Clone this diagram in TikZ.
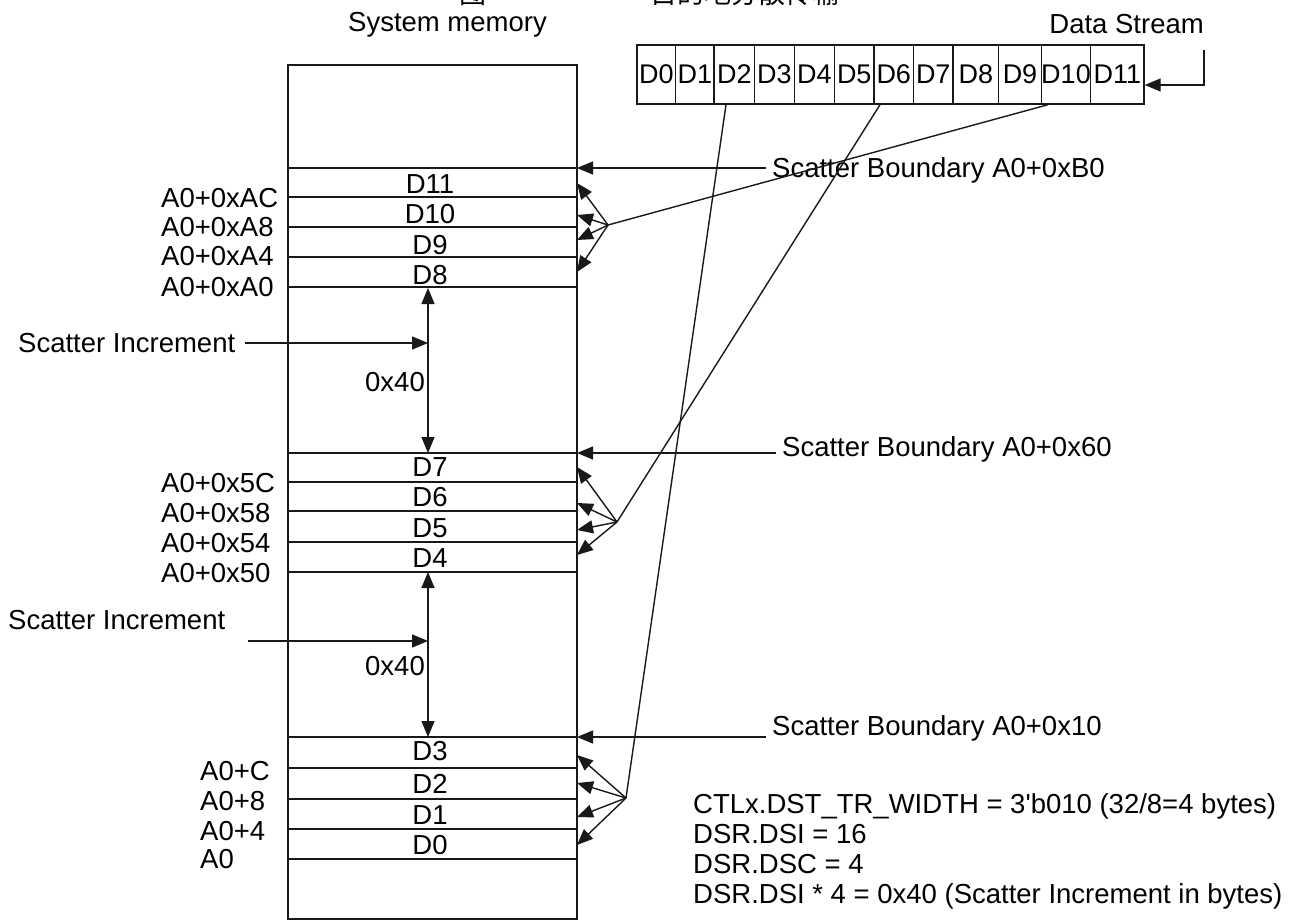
\documentclass[tikz,border=0pt]{standalone}
\usepackage{fontspec}
\setmainfont{Liberation Sans}
\newfontfamily\cjk{Noto Sans CJK SC}
\usetikzlibrary{arrows.meta}
\begin{document}
\begin{tikzpicture}[x=1pt,y=-1pt,
  ln/.style={line width=1.4pt, draw=black!90},
  tipa/.tip={Triangle[length=16pt,width=13pt]},
  arr/.style={ln, -tipa},
  darr/.style={ln, tipa-tipa},
  txt/.style={font=\fontsize{27.5}{30}\selectfont, inner sep=0pt},
  cell/.style={ln, draw, minimum height=59pt, inner sep=0pt, font=\fontsize{27}{30}\selectfont}]
\useasboundingbox (0,0) rectangle (1294,921);

% clipped caption at the very top
\node[font=\cjk\fontsize{27}{30}\selectfont, inner sep=0pt, anchor=base] (cap1) at (473,3) {图};
\node[font=\cjk\fontsize{27}{30}\selectfont, inner sep=0pt, anchor=base west] (cap2) at (650,3) {目的地分散传输};

% memory block
\node[txt, anchor=base east] (memlbl) at (547,31) {System memory};
\node[ln, draw, minimum width=289pt, minimum height=854pt, inner sep=0pt] (mem) at (432.5,492) {};
\foreach \y in {168,197,227,257,287,453,482,511,542,572,737,768,799,829,859}
  \draw[ln] (mem.west |- 0,\y) -- (mem.east |- 0,\y);

% row contents
\foreach \t/\y in {D11/184,D10/214,D9/245,D8/275,D7/467,D6/497,D5/528,D4/558,D3/751,D2/784,D1/815,D0/845}
  \node[txt] (r\t) at (430,\y) {\t};

% address labels
\foreach \t/\y/\n in {A0+0xAC/198/a1,A0+0xA8/227/a2,A0+0xA4/256/a3,A0+0xA0/287/a4,
                      A0+0x5C/483/a5,A0+0x58/513/a6,A0+0x54/543/a7,A0+0x50/573/a8}
  \node[txt, anchor=west] (\n) at (161,\y) {\t};
\foreach \t/\y/\n in {A0+C/771/a9,A0+8/801/a10,A0+4/831/a11,A0/859/a12}
  \node[txt, anchor=west] (\n) at (200,\y) {\t};

% scatter increments
\node[txt, inner xsep=10pt, anchor=west] (si1) at (8,343) {Scatter Increment};
\coordinate (v1a) at (428,288);
\coordinate (v1b) at (428,453);
\coordinate (v1m) at (428,343);
\draw[darr] (v1a) -- (v1b);
\draw[arr] (si1.east) -- (v1m);
\node[txt, anchor=east] (x1) at (425,382) {0x40};

\node[txt, anchor=west] (si2) at (8,620) {Scatter Increment};
\coordinate (s2s) at (248,641);
\coordinate (v2a) at (428,572);
\coordinate (v2b) at (428,737);
\coordinate (v2m) at (428,641);
\draw[darr] (v2a) -- (v2b);
\draw[arr] (s2s) -- (v2m);
\node[txt, anchor=east] (x2) at (425,666) {0x40};

% scatter boundaries
\node[txt, inner xsep=6pt, anchor=west] (b1) at (766,170) {Scatter Boundary A0+0xB0};
\node[txt, inner xsep=6pt, anchor=west] (b2) at (776,449) {Scatter Boundary A0+0x60};
\node[txt, inner xsep=6pt, anchor=west] (b3) at (766,728) {Scatter Boundary A0+0x10};
\coordinate (bt1) at (577,168);
\coordinate (bt2) at (577,453);
\coordinate (bt3) at (577,737);
\draw[arr] (b1.west |- bt1) -- (bt1);
\draw[arr] (b2.west |- bt2) -- (bt2);
\draw[arr] (b3.west |- bt3) -- (bt3);

% data stream
\node[txt, anchor=east] (dsl) at (1204,24) {Data Stream};
\foreach \i/\a/\b in {0/637/675.7,1/675.7/714,2/714/754.7,3/754.7/794.2,4/794.2/834.5,5/834.5/874,
                      6/874/913.5,7/913.5/953,8/953/998.7,9/998.7/1041.3,10/1041.3/1090.7,11/1090.7/1144}
  \node[cell, minimum width={(\b-\a)*1pt}] (c\i) at ({(\a+\b)/2},74.5) {D\i};
\coordinate (ds0) at (1204,50);
\draw[arr] (ds0) |- ([yshift=-10.5pt]c11.east);

% fan-out points
\coordinate (T) at (608,225);
\coordinate (M) at (617,522);
\coordinate (B) at (626,798);
\draw[ln] ([xshift=-18pt]c10.south) -- (T);
\draw[ln] ([xshift=-13.75pt]c6.south) -- (M);
\draw[ln] ([xshift=-8.35pt]c2.south) -- (B);
\foreach \y in {183,215,240,272} \draw[arr] (T) -- (577,\y);
\foreach \y in {467,503,530,555} \draw[arr] (M) -- (577,\y);
\foreach \y in {755,783,817,845} \draw[arr] (B) -- (577,\y);

% notes
\node[txt, align=left, anchor=west] (notes) at (693,851)
  {CTLx.DST\_TR\_WIDTH = 3\textquotesingle b010 (32/8=4 bytes)\\
   DSR.DSI = 16\\
   DSR.DSC = 4\\
   DSR.DSI * 4 = 0x40 (Scatter Increment in bytes)};
\end{tikzpicture}
\end{document}
